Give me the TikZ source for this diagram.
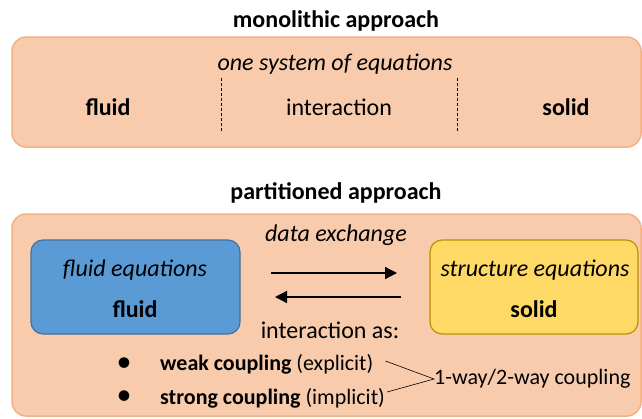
\documentclass[tikz,border=0pt]{standalone}
\usepackage{fontspec}
\setmainfont{Carlito}
\usetikzlibrary{arrows.meta}
\definecolor{peach}{HTML}{F8CBAD}
\definecolor{peachline}{HTML}{F4B183}
\definecolor{bluefill}{HTML}{5B9BD5}
\definecolor{blueline}{HTML}{41719C}
\definecolor{yellowfill}{HTML}{FFD966}
\definecolor{yellowline}{HTML}{BF9000}
\tikzset{
  bigbox/.style={draw=peachline, fill=peach, line width=1.5pt, rounded corners=14pt},
  blubox/.style={draw=blueline, fill=bluefill, line width=1.2pt, rounded corners=12pt},
  yelbox/.style={draw=yellowline, fill=yellowfill, line width=1.2pt, rounded corners=12pt},
  txt/.style={inner sep=0pt, font=\fontsize{24}{28}\selectfont},
  smtxt/.style={inner sep=0pt, font=\fontsize{22}{26}\selectfont},
  sep/.style={densely dashed, line width=0.8pt},
  flow/.style={-{Triangle[length=12pt,width=12pt]}, line width=1.3pt},
  brace/.style={line width=0.6pt}
}
\begin{document}
\begin{tikzpicture}[x=1pt,y=-1pt]
\useasboundingbox (0,0) rectangle (642,418);
% monolithic
\node[txt, font=\fontsize{24}{28}\selectfont\bfseries] (mtitle) at (336,21) {monolithic approach};
\draw[bigbox] (12,37) rectangle (641,147);
\node[txt, font=\fontsize{24}{28}\selectfont\itshape] (onesys) at (335,64) {one system of equations};
\coordinate (d1t) at (221,78); \coordinate (d1b) at (221,133);
\coordinate (d2t) at (457,78); \coordinate (d2b) at (457,133);
\draw[sep] (d1t) -- (d1b);
\draw[sep] (d2t) -- (d2b);
\node[txt, font=\fontsize{24}{28}\selectfont\bfseries] (mfluid) at (108,107) {fluid};
\node[txt] (minter) at (339,107) {interaction};
\node[txt, font=\fontsize{24}{28}\selectfont\bfseries] (msolid) at (566,107) {solid};
% partitioned
\node[txt, font=\fontsize{24}{28}\selectfont\bfseries] (ptitle) at (336,193) {partitioned approach};
\draw[bigbox] (12,214) rectangle (641,416);
\draw[blubox] (31,240) rectangle (240,334);
\draw[yelbox] (430,240) rectangle (638,334);
\node[txt, font=\fontsize{24}{28}\selectfont\itshape] (dex) at (336,235) {data exchange};
\node[txt, font=\fontsize{24}{28}\selectfont\itshape] (feq) at (135,270) {fluid equations};
\node[txt, font=\fontsize{24}{28}\selectfont\bfseries] (pfluid) at (135,309) {fluid};
\node[txt, font=\fontsize{24}{28}\selectfont\itshape] (seq) at (535,270) {structure equations};
\node[txt, font=\fontsize{24}{28}\selectfont\bfseries] (psolid) at (534,309) {solid};
\coordinate (a1s) at (271,273); \coordinate (a1e) at (397,273);
\coordinate (a2s) at (401,297); \coordinate (a2e) at (275,297);
\draw[flow] (a1s) -- (a1e);
\draw[flow] (a2s) -- (a2e);
\node[txt] (ias) at (330,330) {interaction as:};
\node[inner sep=0pt, font=\fontsize{30}{30}\selectfont] (b1) at (124,365) {•};
\node[inner sep=0pt, font=\fontsize{30}{30}\selectfont] (b2) at (124,398) {•};
\node[smtxt, anchor=west] (weak) at (160,364) {\textbf{weak coupling} (explicit)};
\node[smtxt, anchor=west] (strong) at (160,398) {\textbf{strong coupling} (implicit)};
\node[smtxt, anchor=west] (way) at (434,379) {1-way/2-way coupling};
\draw[brace] ([xshift=12pt,yshift=3pt]weak.east) -- (way.west) -- ([xshift=2pt,yshift=6pt]strong.east);
\end{tikzpicture}
\end{document}
